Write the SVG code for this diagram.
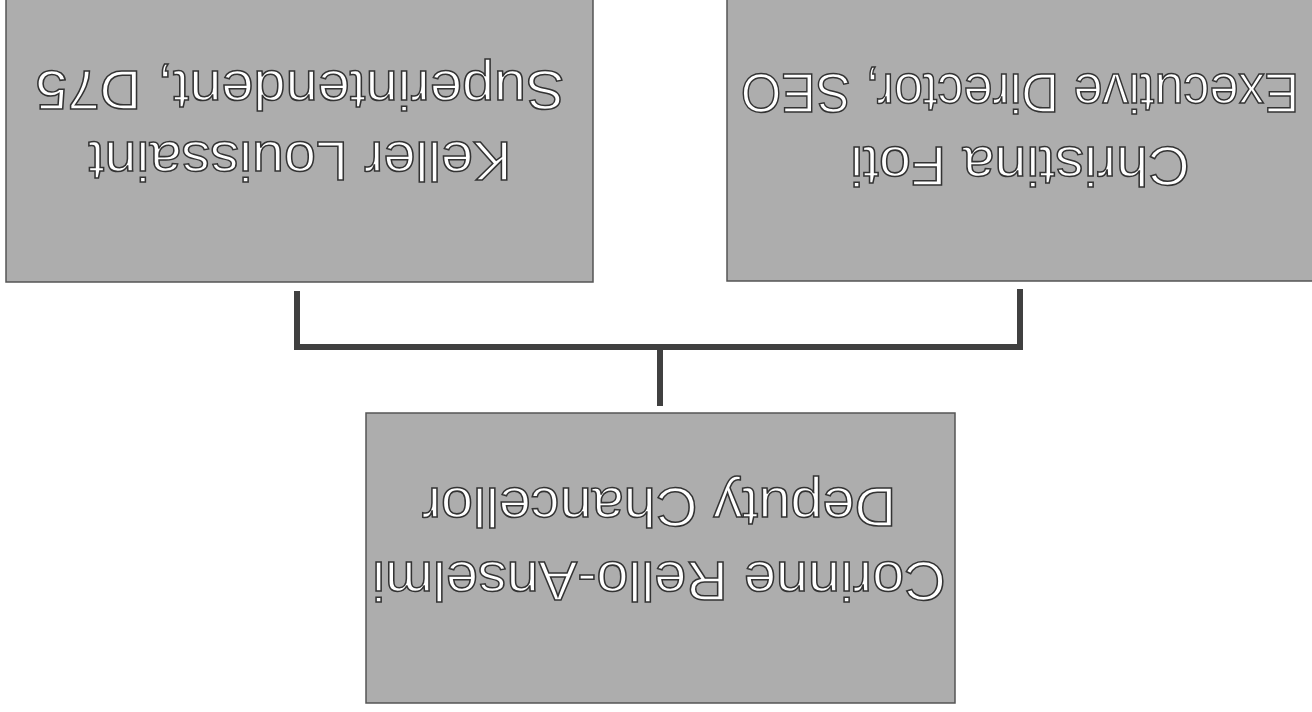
<svg xmlns="http://www.w3.org/2000/svg" width="1312" height="712" viewBox="0 0 1312 712">
<style>
.box{fill:#adadad;stroke:#555555;stroke-width:1.5}
.lbl{font-family:"Liberation Sans",Arial,sans-serif;font-size:56px;fill:#ffffff;stroke:#333333;stroke-width:1.5;text-anchor:middle}
.conn{fill:none;stroke:#404040;stroke-width:6;stroke-linejoin:miter}
</style>
<rect width="1312" height="712" fill="#ffffff"/>
<g id="connectors">
<path class="conn" d="M297,291 V347 H1020 V289"/>
<path class="conn" d="M660,347 V406"/>
</g>
<g id="node-keller">
<rect class="box" x="6" y="-2" width="587" height="284"/>
<text class="lbl" transform="translate(300 71) rotate(180) scale(1.03 1)">Superintendent, D75</text>
<text class="lbl" transform="translate(300 142) rotate(180) scale(1.03 1)">Keller Louissaint</text>
</g>
<g id="node-christina">
<rect class="box" x="727" y="-2" width="590" height="283"/>
<text class="lbl" transform="translate(1020 74) rotate(180) scale(0.93 1)">Executive Director, SEO</text>
<text class="lbl" transform="translate(1020 147) rotate(180) scale(1.03 1)">Christina Foti</text>
</g>
<g id="node-corinne">
<rect class="box" x="366" y="413" width="589" height="290"/>
<text class="lbl" transform="translate(659 488) rotate(180) scale(1.03 1)">Deputy Chancellor</text>
<text class="lbl" transform="translate(659 562) rotate(180) scale(1.03 1)">Corinne Rello-Anselmi</text>
</g>
</svg>
